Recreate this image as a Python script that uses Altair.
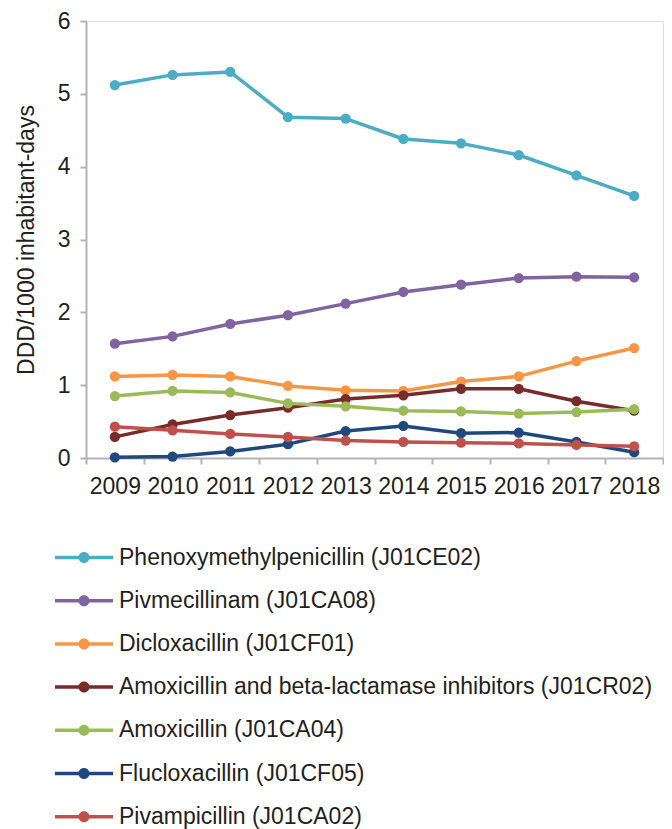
import altair as alt
import pandas as pd

years = ["2009", "2010", "2011", "2012", "2013", "2014", "2015", "2016", "2017", "2018"]

series_names = [
    "Phenoxymethylpenicillin (J01CE02)",
    "Pivmecillinam (J01CA08)",
    "Dicloxacillin (J01CF01)",
    "Amoxicillin and beta-lactamase inhibitors (J01CR02)",
    "Amoxicillin (J01CA04)",
    "Flucloxacillin (J01CF05)",
    "Pivampicillin (J01CA02)",
]

phenoxymethylpenicillin = [5.12, 5.26, 5.30, 4.68, 4.66, 4.38, 4.32, 4.16, 3.88, 3.60]
pivmecillinam = [1.57, 1.67, 1.84, 1.96, 2.12, 2.28, 2.38, 2.47, 2.49, 2.48]
dicloxacillin = [1.12, 1.14, 1.12, 0.99, 0.93, 0.92, 1.05, 1.12, 1.33, 1.51]
amox_beta = [0.29, 0.46, 0.59, 0.69, 0.81, 0.86, 0.95, 0.95, 0.78, 0.65]
amoxicillin = [0.85, 0.92, 0.90, 0.75, 0.71, 0.65, 0.64, 0.61, 0.63, 0.67]
flucloxacillin = [0.01, 0.02, 0.09, 0.19, 0.37, 0.44, 0.34, 0.35, 0.22, 0.08]
pivampicillin = [0.43, 0.38, 0.33, 0.29, 0.24, 0.22, 0.21, 0.20, 0.18, 0.16]

colors = ["#4BACC6", "#8064A2", "#F79646", "#772C2A", "#9BBB59", "#1F497D", "#C0504D"]

all_values = [phenoxymethylpenicillin, pivmecillinam, dicloxacillin, amox_beta,
              amoxicillin, flucloxacillin, pivampicillin]

rows = []
for name, vals in zip(series_names, all_values):
    for yr, v in zip(years, vals):
        rows.append({"series": name, "year": yr, "value": v})
df = pd.DataFrame(rows)

FONT = "Liberation Sans"
GRAY = "#B3B3B7"
TEXT = "#231F20"

color_scale = alt.Scale(domain=series_names, range=colors)

x_enc = alt.X(
    "year:O",
    sort=years,
    scale=alt.Scale(type="band", paddingInner=0, paddingOuter=0),
    bandPosition=0.5,
    axis=alt.Axis(
        title=None, labelAngle=0, labelFontSize=23, labelFont=FONT, labelColor=TEXT,
        domainColor=GRAY, domainWidth=2, tickColor=GRAY, tickWidth=2, tickSize=6,
        tickBand="extent", labelPadding=11, grid=False,
    ),
)
y_enc = alt.Y(
    "value:Q",
    scale=alt.Scale(domain=[0, 6], nice=False),
    axis=alt.Axis(
        title="DDD/1000 inhabitant-days", values=[0, 1, 2, 3, 4, 5, 6], format="d",
        labelFontSize=23, labelFont=FONT, labelColor=TEXT, titleFontSize=23,
        titleFont=FONT, titleFontWeight="normal", titleColor=TEXT,
        domainColor=GRAY, domainWidth=2, tickColor=GRAY, tickWidth=2, tickSize=6,
        labelPadding=10, titlePadding=19, grid=False,
    ),
)

# legend symbol: short line with a dot in the middle (unit = 11.5 px)
legend_symbol = ("M-2.52,-0.15L2.52,-0.15L2.52,0.15L-2.52,0.15Z "
                 "M0.48,0A0.48,0.48,0,1,1,-0.48,0A0.48,0.48,0,1,1,0.48,0Z")

legend = alt.Legend(
    title=None, orient="none", legendX=-13.5, legendY=525,
    symbolType=legend_symbol, symbolSize=529, symbolStrokeWidth=0,
    labelFontSize=23, labelFont=FONT, labelColor=TEXT, labelOffset=23.5,
    rowPadding=19.2, labelLimit=700, symbolOpacity=1,
)

layers = []
for name, col in zip(series_names, colors):
    base = alt.Chart(df).transform_filter(alt.datum.series == name)
    line = base.mark_line(strokeWidth=3.5, strokeJoin="round", color=col).encode(
        x=x_enc, y=y_enc,
    )
    pts = base.mark_point(filled=True, size=105, opacity=1).encode(
        x=x_enc, y=y_enc,
        color=alt.Color("series:N", scale=color_scale, legend=legend, sort=series_names),
    )
    layers.extend([line, pts])

chart = alt.layer(*layers).properties(
    width=577, height=437,
    padding={"left": 7, "top": 2, "right": 0, "bottom": 0},
).configure_view(stroke=None).configure(font=FONT)

chart.save("out.html", embed_options={"renderer": "svg", "actions": False})
